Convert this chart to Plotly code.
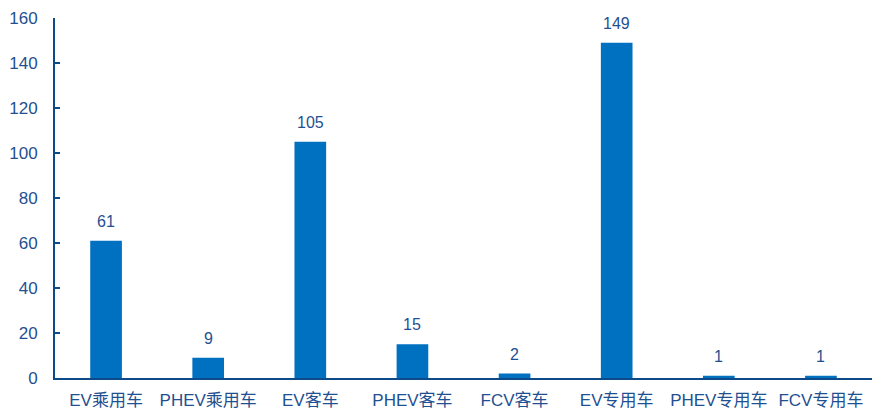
import plotly.graph_objects as go

categories = ["EV乘用车", "PHEV乘用车", "EV客车", "PHEV客车", "FCV客车",
              "EV专用车", "PHEV专用车", "FCV专用车"]
values = [61, 9, 105, 15, 2, 149, 1, 1]
y_ticks = [0, 20, 40, 60, 80, 100, 120, 140, 160]

bar_color = "#0070C0"
axis_color = "#0D4A8A"
text_color = "#1F5091"
font_family = "Liberation Sans, Arial, Noto Sans CJK SC, sans-serif"

fig = go.Figure(
    go.Bar(
        x=categories,
        y=values,
        marker=dict(color=bar_color, line=dict(width=0)),
        cliponaxis=False,
    )
)

# value labels above each bar
for cat, val in zip(categories, values):
    fig.add_annotation(
        x=cat, y=val, text=str(val),
        showarrow=False, yanchor="bottom", yshift=9,
        font=dict(size=16, color=text_color, family=font_family),
    )

fig.update_layout(
    width=872,
    height=410,
    margin=dict(l=55, r=0, t=18, b=32),
    paper_bgcolor="white",
    plot_bgcolor="white",
    bargap=0.69,
    showlegend=False,
    font=dict(family=font_family, size=17, color=text_color),
)

fig.update_xaxes(
    showline=True,
    linecolor=axis_color,
    linewidth=2,
    showgrid=False,
    ticks="",
    automargin=False,
    ticklabelstandoff=6,
    tickfont=dict(size=17, color=text_color),
)

fig.update_yaxes(
    range=[0, 160],
    tickvals=y_ticks,
    showline=True,
    linecolor=axis_color,
    linewidth=2,
    showgrid=False,
    zeroline=False,
    automargin=False,
    ticks="inside",
    ticklen=5,
    tickwidth=2,
    tickcolor=axis_color,
    ticklabelstandoff=12,
    tickfont=dict(size=17, color=text_color),
)

fig.write_html("out.html")
